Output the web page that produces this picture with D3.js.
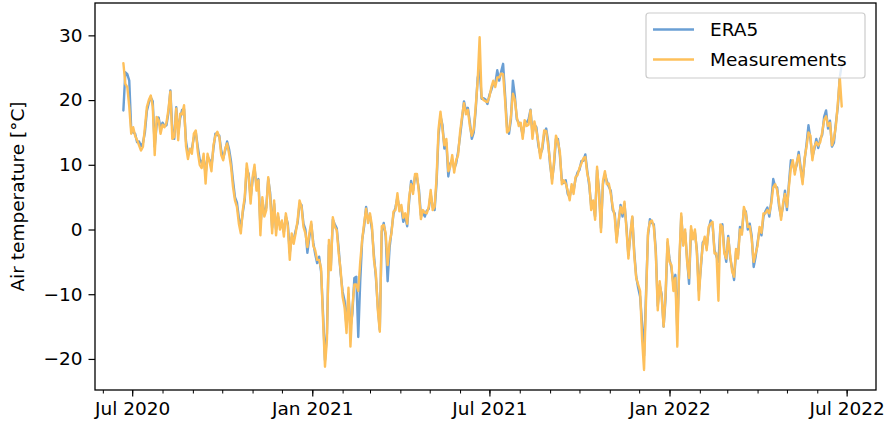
<!DOCTYPE html>
<html>
<head>
<meta charset="utf-8">
<script src="https://cdn.jsdelivr.net/npm/d3@7"></script>
<style>
  html, body { margin: 0; padding: 0; background: #fff; }
  svg { display: block; font-family: "DejaVu Sans", sans-serif; }
</style>
</head>
<body>
<svg id="chart" width="887" height="430"></svg>
<script>
// Daily air temperature, sampled every second day from 22 Jun 2020
const startDate = new Date(Date.UTC(2020, 5, 22));
const stepDays = 2;

const measurements = [
  25.7, 22.5, 22.0, 19.0, 14.8, 15.8, 14.5, 13.8, 13.0, 12.2,
  12.8, 15.8, 18.9, 20.0, 20.7, 19.0, 11.5, 17.4, 16.9, 14.8,
  16.2, 15.8, 16.5, 18.5, 21.3, 14.0, 14.3, 18.7, 13.8, 17.9,
  17.8, 19.2, 12.8, 10.9, 12.5, 11.7, 14.8, 15.3, 12.0, 10.0,
  9.5, 11.7, 7.1, 11.7, 10.5, 9.0, 13.0, 14.5, 15.1, 14.3,
  11.5, 10.7, 12.5, 13.3, 11.7, 9.7, 6.6, 4.5, 3.5, 0.9,
  -0.6, 3.0, 5.0, 10.2, 8.1, 4.0, 8.1, 10.0, 6.0, 7.6,
  -0.9, 5.0, 2.0, 3.0, 8.1, 5.0, -0.6, 4.5, -0.9, 2.5,
  0.0, 1.4, -1.1, 2.5, 0.5, -4.7, -0.6, -2.2, -0.6, 1.4,
  4.5, 3.5, 0.4, -0.6, -2.7, -0.6, 1.2, -2.5, -3.2, -4.7,
  -4.7, -6.0, -14.0, -21.2, -17.0, -1.6, -6.3, 1.9, 0.4, -0.1,
  -3.7, -6.3, -10.4, -12.0, -16.0, -9.0, -18.1, -12.0, -8.5, -8.5,
  -9.5, -5.0, -1.6, 1.0, 3.2, 1.0, 2.5, 0.5, -4.7, -6.8,
  -12.5, -15.8, 0.5, 0.7, -0.6, -5.5, -2.0, -0.5, 2.8, 3.0,
  5.6, 2.8, 3.8, 1.8, 2.5, 0.9, 5.0, 7.0, 5.5, 8.6,
  8.6, 5.6, 1.6, 3.0, 2.6, 2.5, 3.5, 6.1, 3.0, 3.5,
  8.0, 15.5, 18.2, 15.5, 13.0, 14.0, 9.0, 9.7, 11.5, 8.8,
  10.7, 11.5, 15.0, 17.4, 19.5, 17.8, 18.5, 16.0, 14.5, 15.5,
  19.0, 23.0, 29.7, 20.5, 20.0, 19.8, 19.7, 20.5, 22.0, 23.0,
  22.0, 23.5, 23.5, 24.1, 24.0, 20.0, 15.0, 15.3, 17.5, 21.0,
  20.0, 17.4, 16.0, 16.5, 14.0, 16.9, 16.0, 16.2, 18.4, 14.0,
  16.7, 15.3, 13.5, 11.0, 12.8, 15.3, 15.2, 13.0, 10.5, 7.1,
  10.5, 14.5, 13.5, 12.0, 7.0, 7.6, 7.1, 6.0, 4.5, 7.0,
  5.5, 8.1, 8.4, 9.5, 10.2, 11.0, 11.2, 8.6, 7.3, 3.0,
  4.5, 1.5, 9.7, 5.5, -0.4, 7.5, 9.0, 7.0, 7.1, 5.5,
  3.5, 2.0, -2.0, 1.4, 3.5, 2.5, 4.3, 0.0, -4.5, -0.5,
  2.0, -4.0, -7.5, -8.5, -9.5, -17.0, -21.7, -11.0, -0.5, 1.2,
  1.4, 0.4, -3.7, -12.5, -8.0, -10.5, -15.0, -10.0, -1.5, -5.0,
  -5.5, -9.5, -7.5, -18.1, -5.0, 2.5, -2.5, 0.0, -5.0, -7.5,
  0.5, -1.5, 0.0, -3.7, -10.9, -5.5, -2.5, -1.1, -3.2, 0.4,
  0.9, 1.2, -3.7, -3.7, -11.0, 0.8, 0.4, -3.7, -4.5, -1.3,
  -4.0, -6.5, -7.3, -3.0, -4.5, 0.0, -0.8, 3.5, 2.5, 0.4,
  0.5, -1.5, -5.0, -3.7, -2.5, 0.4, -0.5, 2.5, 2.5, 3.0,
  2.5, 4.0, 6.5, 7.0, 6.1, 4.0, 1.5, 4.0, 5.5, 3.5,
  6.6, 9.5, 10.7, 8.5, 10.4, 11.5, 9.2, 7.0, 11.0, 12.8,
  15.0, 14.5, 10.7, 12.8, 13.5, 13.0, 13.5, 15.0, 16.9, 17.5,
  16.0, 16.5, 13.0, 14.0, 16.0, 19.5, 23.5, 19.0
];

const era5 = [
  18.4, 24.3, 24.0, 23.0, 15.5, 15.0, 14.8, 13.5, 13.6, 12.9,
  13.4, 15.0, 18.3, 19.6, 20.4, 19.8, 12.8, 16.2, 17.3, 15.6,
  16.5, 16.0, 16.1, 18.0, 21.5, 15.5, 14.0, 18.9, 14.8, 17.2,
  18.5, 18.6, 13.6, 11.8, 12.0, 12.5, 14.2, 15.0, 12.8, 10.8,
  10.3, 11.0, 8.6, 11.2, 10.8, 9.8, 12.5, 14.8, 14.6, 14.5,
  12.2, 11.0, 12.2, 13.6, 12.4, 10.5, 7.6, 5.0, 4.2, 1.8,
  0.2, 2.6, 4.6, 9.4, 8.6, 4.8, 7.6, 9.5, 6.8, 7.8,
  0.5, 4.4, 2.6, 3.4, 7.8, 5.6, 0.3, 4.0, 0.0, 2.0,
  0.6, 1.0, -0.4, 2.0, 0.9, -3.6, -1.2, -1.6, -0.2, 1.0,
  4.0, 3.8, 0.9, 0.0, -3.6, -1.2, 0.8, -2.0, -3.8, -5.2,
  -4.2, -6.5, -13.0, -20.2, -16.0, -2.4, -5.6, 1.5, 0.8, 0.2,
  -3.0, -6.8, -9.6, -11.0, -15.0, -10.0, -15.2, -13.0, -7.5, -7.3,
  -16.6, -8.0, -1.6, 0.5, 3.5, 1.5, 2.0, 0.0, -4.0, -7.4,
  -12.0, -15.5, -0.3, 1.0, -1.0, -8.0, -2.8, -0.2, 2.4, 3.4,
  5.0, 3.2, 3.4, 1.2, 2.0, 0.5, 4.4, 7.5, 6.0, 8.2,
  8.0, 6.2, 2.2, 2.6, 2.0, 2.9, 3.2, 5.5, 3.5, 3.0,
  7.2, 14.6, 17.5, 16.2, 12.5, 13.4, 8.2, 10.2, 10.8, 9.4,
  10.2, 12.0, 14.4, 17.0, 19.8, 18.4, 18.8, 16.6, 14.0, 15.0,
  18.5, 23.4, 24.9, 20.2, 20.3, 20.1, 19.4, 20.8, 21.6, 22.6,
  22.5, 24.6, 23.0, 24.4, 25.6, 20.8, 15.8, 14.8, 17.0, 23.0,
  20.6, 17.0, 16.5, 16.0, 14.6, 16.4, 16.5, 17.0, 18.5, 14.8,
  16.2, 15.8, 13.0, 11.6, 12.4, 14.8, 15.6, 13.6, 10.0, 7.8,
  10.0, 14.0, 14.0, 11.5, 7.6, 7.2, 7.6, 5.5, 5.0, 6.6,
  6.0, 7.8, 8.8, 9.2, 10.6, 10.6, 11.6, 9.0, 6.8, 3.6,
  4.0, 2.0, 9.2, 6.0, 0.2, 7.0, 8.6, 7.5, 6.6, 6.0,
  3.0, 2.5, -1.5, 1.0, 3.8, 2.0, 4.0, 0.5, -4.0, -1.0,
  1.9, -3.5, -7.3, -9.0, -10.4, -14.5, -19.5, -10.0, -1.0, 1.6,
  1.0, 0.8, -3.2, -11.8, -8.6, -10.0, -15.0, -10.6, -2.0, -4.5,
  -6.0, -8.4, -7.0, -15.5, -5.6, 2.0, -2.0, -0.5, -4.6, -8.4,
  0.0, -1.0, -0.5, -3.2, -9.5, -6.0, -2.0, -1.6, -2.8, 0.0,
  1.4, 0.8, -3.2, -4.2, -5.0, 0.4, 0.8, -3.2, -5.0, -1.0,
  -4.4, -6.0, -7.8, -3.4, -4.0, 0.4, -0.4, 3.0, 2.8, 0.0,
  0.9, -1.0, -5.8, -4.2, -2.0, 0.0, -0.9, 2.0, 2.8, 3.4,
  2.0, 4.4, 7.8, 6.6, 6.5, 3.5, 2.0, 3.6, 6.0, 3.0,
  7.0, 10.7, 10.2, 9.0, 10.0, 12.0, 9.6, 7.5, 10.6, 13.2,
  16.1, 14.0, 11.2, 12.4, 14.0, 12.6, 14.0, 14.6, 17.4, 18.4,
  15.6, 16.8, 12.8, 13.4, 16.4, 19.0, 23.5, 25.5
];

const seriesNames = ["ERA5", "Measurements"];
const seriesColors = ["#6a9fd4", "#fec05b"];
const yTicks = [-20, -10, 0, 10, 20, 30];
const yLabel = "Air temperature [°C]";

const svg = d3.select("#chart");
const plot = { left: 95, right: 876, top: 3, bottom: 390 };
const fontSize = 18.5;

const x = d3.scaleUtc()
  .domain([new Date(Date.UTC(2020, 4, 24)), new Date(Date.UTC(2022, 6, 31))])
  .range([plot.left, plot.right]);
const y = d3.scaleLinear()
  .domain([-24.8, 35])
  .range([plot.bottom, plot.top]);

const dateAt = i => d3.utcDay.offset(startDate, i * stepDays);
const toPoints = vals => vals.map((v, i) => ({ date: dateAt(i), value: v }));

const line = d3.line()
  .x(d => x(d.date))
  .y(d => y(d.value));

svg.append("defs").append("clipPath").attr("id", "plotClip")
  .append("rect")
  .attr("x", plot.left).attr("y", plot.top)
  .attr("width", plot.right - plot.left).attr("height", plot.bottom - plot.top);

const lines = svg.append("g").attr("clip-path", "url(#plotClip)");
[era5, measurements].forEach((vals, k) => {
  lines.append("path")
    .datum(toPoints(vals))
    .attr("fill", "none")
    .attr("stroke", seriesColors[k])
    .attr("stroke-width", 2.4)
    .attr("stroke-linejoin", "round")
    .attr("stroke-linecap", "round")
    .attr("d", line);
});

// x axis: half-year labels, monthly minor ticks
const xMinor = svg.append("g")
  .attr("transform", `translate(0,${plot.bottom})`)
  .call(d3.axisBottom(x).ticks(d3.utcMonth.every(1)).tickSize(3.5).tickFormat(""));
xMinor.select(".domain").remove();
xMinor.selectAll("line").attr("stroke", "#000").attr("stroke-width", 1);

const xMajor = svg.append("g")
  .attr("transform", `translate(0,${plot.bottom})`)
  .call(d3.axisBottom(x).ticks(d3.utcMonth.every(6)).tickSize(6.5).tickPadding(5)
    .tickFormat(d3.utcFormat("%b %Y")));
xMajor.select(".domain").remove();
xMajor.selectAll("line").attr("stroke", "#000").attr("stroke-width", 1.2);
xMajor.selectAll("text")
  .attr("font-size", fontSize).attr("fill", "#000")
  .attr("font-family", "DejaVu Sans, sans-serif");

const yAxis = svg.append("g")
  .attr("transform", `translate(${plot.left},0)`)
  .call(d3.axisLeft(y).tickValues(yTicks).tickSize(6.5).tickPadding(6));
yAxis.select(".domain").remove();
yAxis.selectAll("line").attr("stroke", "#000").attr("stroke-width", 1.2);
yAxis.selectAll("text")
  .attr("font-size", fontSize).attr("fill", "#000")
  .attr("font-family", "DejaVu Sans, sans-serif");

// frame
svg.append("rect")
  .attr("x", plot.left).attr("y", plot.top)
  .attr("width", plot.right - plot.left).attr("height", plot.bottom - plot.top)
  .attr("fill", "none").attr("stroke", "#000").attr("stroke-width", 1.3);

svg.append("text")
  .attr("transform", `translate(24,${(plot.top + plot.bottom) / 2}) rotate(-90)`)
  .attr("text-anchor", "middle")
  .attr("font-size", fontSize)
  .text(yLabel);

// legend
const legend = svg.append("g");
legend.append("rect")
  .attr("x", 646).attr("y", 13).attr("width", 219).attr("height", 65)
  .attr("rx", 3).attr("fill", "#fff").attr("fill-opacity", 0.8)
  .attr("stroke", "#cccccc").attr("stroke-width", 1.2);
seriesNames.forEach((name, k) => {
  const ly = 29.5 + k * 30;
  legend.append("line")
    .attr("x1", 653).attr("x2", 694).attr("y1", ly).attr("y2", ly)
    .attr("stroke", seriesColors[k]).attr("stroke-width", 2.4);
  legend.append("text")
    .attr("x", 710).attr("y", ly + 6.5)
    .attr("font-size", fontSize)
    .text(name);
});
</script>
</body>
</html>
